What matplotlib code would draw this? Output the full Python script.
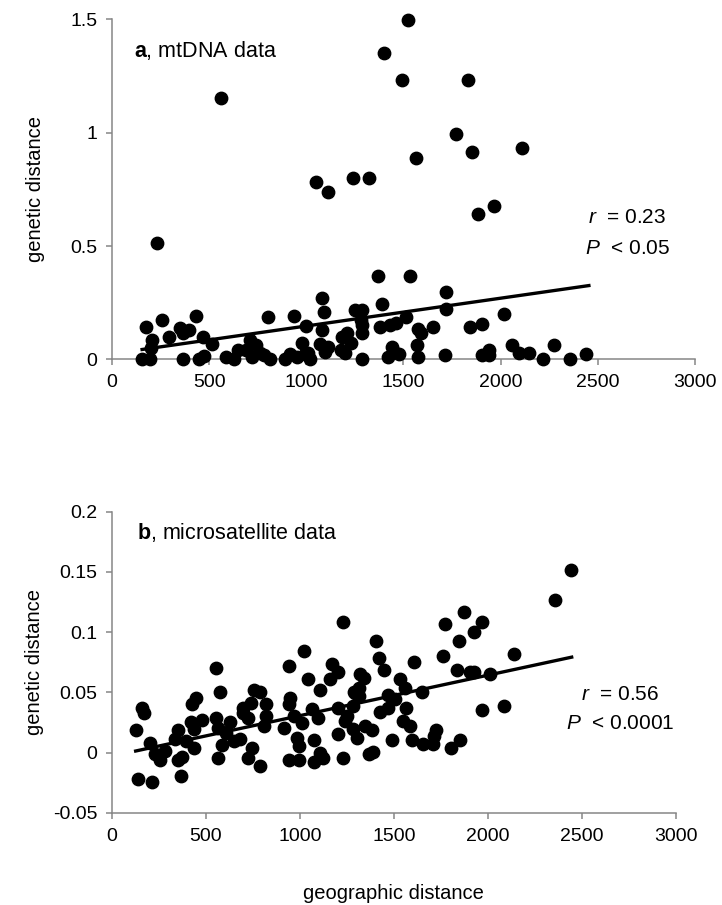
import matplotlib
matplotlib.use("Agg")
import matplotlib.pyplot as plt

plt.rcParams["font.family"] = ["Liberation Sans", "DejaVu Sans"]
plt.rcParams["mathtext.fontset"] = "custom"
plt.rcParams["mathtext.rm"] = "Liberation Sans"
plt.rcParams["mathtext.it"] = "Liberation Sans:italic"
plt.rcParams["mathtext.bf"] = "Liberation Sans:bold"

# mtDNA pairwise comparisons: geographic vs genetic distance
mt_geo = [1523, 1401, 1493, 1833, 560, 1772, 1853, 2110, 1564, 1049, 1112, 1238,
          1320, 1884, 1965, 230, 1371, 1536, 1721, 1081, 1389, 1721, 2016, 1249,
          1289, 1092, 434, 802, 937, 257, 175, 352, 395, 363, 291, 468, 515, 206,
          200, 153, 196, 368, 450, 474, 586, 627, 648, 692, 709, 740, 719, 760,
          780, 815, 892, 917, 953, 978, 998, 994, 1020, 1008, 1069, 1081, 1096,
          1112, 1177, 1183, 1208, 1198, 1228, 1289, 1289, 1289, 1283, 1381, 1432,
          1462, 1442, 1452, 1422, 1477, 1513, 1577, 1589, 1568, 1577, 1650, 1713,
          1843, 1904, 1904, 1941, 1941, 2059, 2094, 2145, 2216, 2277, 2358, 2440]
mt_gen = [1.497, 1.350, 1.232, 1.232, 1.154, 0.995, 0.914, 0.933, 0.887, 0.781,
          0.737, 0.800, 0.800, 0.641, 0.675, 0.516, 0.368, 0.368, 0.296, 0.270,
          0.245, 0.224, 0.200, 0.218, 0.218, 0.209, 0.192, 0.189, 0.192, 0.174,
          0.144, 0.137, 0.130, 0.115, 0.100, 0.100, 0.068, 0.085, 0.049, 0.004,
          0.004, 0.004, 0.004, 0.015, 0.012, 0.004, 0.041, 0.041, 0.085, 0.063,
          0.012, 0.027, 0.019, 0.004, 0.004, 0.024, 0.009, 0.071, 0.147, 0.024,
          0.004, 0.027, 0.068, 0.130, 0.034, 0.056, 0.041, 0.100, 0.118, 0.030,
          0.071, 0.004, 0.152, 0.115, 0.174, 0.144, 0.152, 0.162, 0.056, 0.034,
          0.012, 0.024, 0.189, 0.133, 0.115, 0.066, 0.009, 0.144, 0.019, 0.144,
          0.155, 0.019, 0.041, 0.019, 0.066, 0.030, 0.030, 0.004, 0.066, 0.004,
          0.024]
mt_trend_x = [155, 2454]
mt_trend_y = [0.044, 0.326]

# microsatellite pairwise comparisons
ms_geo = [2441, 2357, 1876, 1771, 1971, 1929, 1845, 1229, 1408, 1419, 1022, 2142,
          1608, 1760, 554, 940, 1172, 1204, 1043, 1161, 1318, 1341, 1446, 1535,
          1834, 1908, 1929, 2013, 1109, 1313, 1292, 1313, 1471, 1560, 1651, 576,
          755, 787, 949, 944, 445, 428, 738, 696, 818, 1067, 1204, 1282, 1471,
          1509, 1566, 1425, 1971, 2087, 158, 168, 481, 418, 554, 628, 696, 723,
          818, 808, 970, 1014, 1098, 1239, 1250, 1551, 1587, 126, 354, 434, 565,
          607, 917, 1204, 1282, 1302, 1345, 1383, 1724, 1714, 337, 396, 202, 586,
          649, 681, 744, 987, 993, 1077, 1492, 1598, 1655, 1707, 1855, 1802, 434,
          280, 228, 255, 354, 375, 565, 723, 787, 940, 993, 1077, 1109, 1124,
          1229, 1366, 1387, 365, 139, 213, 1286]
ms_gen = [0.1514, 0.1265, 0.1166, 0.1069, 0.1083, 0.1000, 0.0931, 0.1083, 0.0931,
          0.0787, 0.0848, 0.0815, 0.0751, 0.0801, 0.0702, 0.0718, 0.0738, 0.0668,
          0.0608, 0.0608, 0.0649, 0.0622, 0.0685, 0.0608, 0.0685, 0.0671, 0.0671,
          0.0655, 0.0519, 0.0539, 0.0497, 0.0470, 0.0483, 0.0539, 0.0506, 0.0503,
          0.0519, 0.0503, 0.0456, 0.0401, 0.0456, 0.0401, 0.0414, 0.0373, 0.0401,
          0.0359, 0.0373, 0.0387, 0.0373, 0.0442, 0.0373, 0.0337, 0.0351, 0.0387,
          0.0373, 0.0331, 0.0268, 0.0254, 0.0290, 0.0254, 0.0331, 0.0290, 0.0304,
          0.0221, 0.0304, 0.0249, 0.0290, 0.0262, 0.0304, 0.0262, 0.0221, 0.0188,
          0.0188, 0.0193, 0.0207, 0.0166, 0.0207, 0.0152, 0.0193, 0.0119, 0.0221,
          0.0188, 0.0188, 0.0138, 0.0116, 0.0097, 0.0077, 0.0061, 0.0097, 0.0110,
          0.0041, 0.0124, 0.0055, 0.0102, 0.0102, 0.0102, 0.0075, 0.0075, 0.0102,
          0.0041, 0.0041, 0.0014, -0.0014, -0.0064, -0.0061, -0.0036, -0.0041,
          -0.0041, -0.0110, -0.0061, -0.0061, -0.0077, -0.0006, -0.0041, -0.0047,
          -0.0014, 0.0006, -0.0193, -0.0221, -0.0240, 0.0503]
ms_trend_x = [126, 2447]
ms_trend_y = [0.0014, 0.0793]

x_ticks = [0, 500, 1000, 1500, 2000, 2500, 3000]
x_tick_labels = ["0", "500", "1000", "1500", "2000", "2500", "3000"]
mt_y_ticks = [0, 0.5, 1, 1.5]
mt_y_labels = ["0", "0.5", "1", "1.5"]
ms_y_ticks = [-0.05, 0, 0.05, 0.1, 0.15, 0.2]
ms_y_labels = ["-0.05", "0", "0.05", "0.1", "0.15", "0.2"]

grey = "#868686"
fig = plt.figure(figsize=(7.22, 9.05), dpi=100)
ax1 = fig.add_axes([0.1551, 0.6028, 0.8075, 0.3757])
ax2 = fig.add_axes([0.1551, 0.1017, 0.7806, 0.3329])


def style(ax, yticks, ylabels):
    for s in ["top", "right"]:
        ax.spines[s].set_visible(False)
    for s in ["left", "bottom"]:
        ax.spines[s].set_color(grey)
        ax.spines[s].set_linewidth(1.1)
    ax.set_xlim(0, 3000)
    ax.set_xticks(x_ticks)
    ax.set_xticklabels(x_tick_labels)
    ax.set_yticks(yticks)
    ax.set_yticklabels(ylabels)
    ax.tick_params(axis="both", direction="out", length=4.5, width=1.1,
                   color=grey, labelsize=14)
    ax.tick_params(axis="x", pad=6)
    ax.tick_params(axis="y", pad=6)


ax1.scatter(mt_geo, mt_gen, s=80, color="black", zorder=3, clip_on=False)
ax1.plot(mt_trend_x, mt_trend_y, color="black", lw=2.4, zorder=4)
ax1.set_ylim(0, 1.5)
style(ax1, mt_y_ticks, mt_y_labels)
ax1.set_ylabel("genetic distance", fontsize=14.5)
ax1.yaxis.set_label_coords(-0.115, 0.5)
ax1.text(0.037, 0.91, r"$\bf{a}$, mtDNA data", transform=ax1.transAxes,
         fontsize=15.5, va="center", ha="left")
ax1.text(2651, 0.626, "$r$  = 0.23", fontsize=15, ha="center", va="center")
ax1.text(2651, 0.491, "$P$  < 0.05", fontsize=15, ha="center", va="center")

ax2.scatter(ms_geo, ms_gen, s=80, color="black", zorder=3, clip_on=False)
ax2.plot(ms_trend_x, ms_trend_y, color="black", lw=2.4, zorder=4)
ax2.set_ylim(-0.05, 0.2)
style(ax2, ms_y_ticks, ms_y_labels)
ax2.set_ylabel("genetic distance", fontsize=14.5)
ax2.yaxis.set_label_coords(-0.12, 0.5)
ax2.set_xlabel("geographic distance", fontsize=14.5)
ax2.xaxis.set_label_coords(0.5, -0.235)
ax2.text(0.045, 0.93, r"$\bf{b}$, microsatellite data", transform=ax2.transAxes,
         fontsize=15.5, va="center", ha="left")
ax2.text(2707, 0.0487, "$r$  = 0.56", fontsize=15, ha="center", va="center")
ax2.text(2707, 0.0244, "$P$  < 0.0001", fontsize=15, ha="center", va="center")

fig.savefig("out.png", dpi=100)
